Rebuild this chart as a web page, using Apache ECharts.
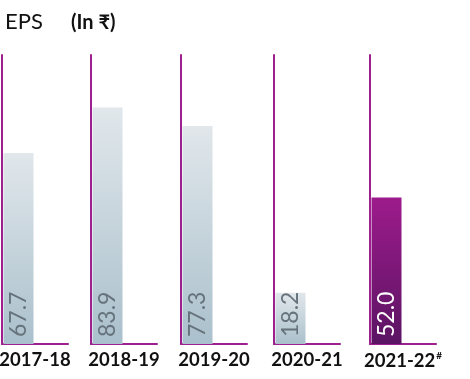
<!DOCTYPE html>
<html><head><meta charset="utf-8">
<script src="https://cdn.jsdelivr.net/npm/echarts@6/dist/echarts.min.js"></script>
<style>html,body{margin:0;padding:0;background:#fff}#c{width:470px;height:379px}</style>
</head><body><div id="c"></div>
<script>
const categories = ['2017-18', '2018-19', '2019-20', '2020-21', '2021-22'];
const values = [67.7, 83.9, 77.3, 18.2, 52.0];
const highlight = [false, false, false, false, true];
const titleText = 'EPS';
const unitText = '(In ₹)';

const FONT = 'Lato, "Noto Sans", "DejaVu Sans", sans-serif';
const PURPLE = '#9e1f8e';
const lefts = [2, 91, 181, 274, 370];

const grids = [], xAxes = [], yAxes = [], series = [];
categories.forEach((c, i) => {
  grids.push({ left: lefts[i], width: 66, top: 55, bottom: 35, containLabel: false, outerBoundsMode: 'none' });
  xAxes.push({
    type: 'category', gridIndex: i, data: [c],
    axisLine: { lineStyle: { color: PURPLE, width: 2 } },
    axisTick: { show: false },
    axisLabel: {
      margin: 7, interval: 0,
      formatter: i === 4 ? '{a|' + c + '}{s|#}' : c,
      color: '#111', fontFamily: FONT, fontWeight: 'bold', fontSize: 18.5,
      rich: {
        a: { color: '#111', fontFamily: FONT, fontWeight: 'bold', fontSize: 18.5 },
        s: { color: '#111', fontFamily: FONT, fontSize: 10, verticalAlign: 'top', padding: [0, 0, 10, 1] }
      }
    }
  });
  yAxes.push({
    type: 'value', gridIndex: i, min: 0, max: 102.5,
    axisLine: { show: true, lineStyle: { color: PURPLE, width: 2 } },
    axisTick: { show: false }, axisLabel: { show: false }, splitLine: { show: false }
  });
  const hl = highlight[i];
  series.push({
    type: 'bar', xAxisIndex: i, yAxisIndex: i, data: [values[i]],
    barWidth: 30, barGap: '10%', silent: true,
    itemStyle: {
      color: hl
        ? new echarts.graphic.LinearGradient(0, 0, 0, 1, [{ offset: 0, color: '#9d1b8c' }, { offset: 1, color: '#5b1463' }])
        : new echarts.graphic.LinearGradient(0, 0, 0, 1, [{ offset: 0, color: '#e1e7eb' }, { offset: 1, color: '#aac0cc' }])
    },
    label: {
      show: true, position: 'insideBottom', rotate: 90, align: 'left', verticalAlign: 'middle',
      distance: 7, formatter: p => p.value.toFixed(1),
      color: hl ? '#ffffff' : '#66737c', fontFamily: FONT, fontWeight: 'normal', fontSize: 23
    }
  });
  series.push({
    type: 'bar', xAxisIndex: i, yAxisIndex: i, data: ['-'],
    barWidth: 30, barGap: '10%', silent: true
  });
});

const chart = echarts.init(document.getElementById('c'), null, { renderer: 'canvas' });
chart.setOption({
  animation: false,
  title: [
    { text: titleText, left: 0, top: 6, textStyle: { fontFamily: FONT, fontWeight: 'normal', fontSize: 22, color: '#111' } },
    { text: unitText, left: 66, top: 8, textStyle: { fontFamily: FONT, fontWeight: 'bold', fontSize: 20, color: '#111' } }
  ],
  grid: grids, xAxis: xAxes, yAxis: yAxes, series: series
});
</script></body></html>
